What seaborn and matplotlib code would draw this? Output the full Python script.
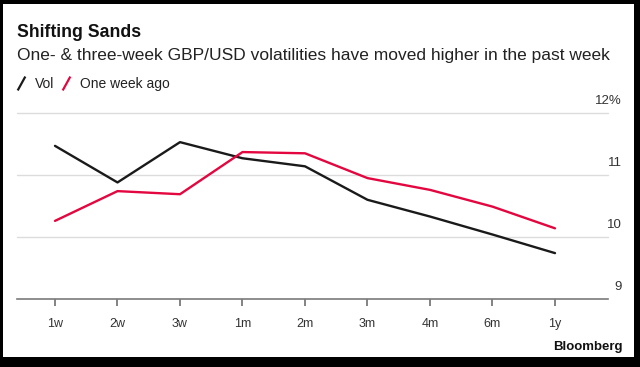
import numpy as np
import pandas as pd
import seaborn as sns
from matplotlib import pyplot as plt
from matplotlib import transforms
from matplotlib.lines import Line2D
from matplotlib.patches import Rectangle

# values (GBP/USD implied vols, %)
tenors = ['1w', '2w', '3w', '1m', '2m', '3m', '4m', '6m', '1y']
vol = [11.47, 10.88, 11.53, 11.27, 11.14, 10.60, 10.33, 10.04, 9.74]
week_ago = [10.26, 10.74, 10.69, 11.37, 11.35, 10.95, 10.76, 10.49, 10.14]
ytick_vals = [9, 10, 11, 12]
ytick_labels = ['9', '10', '11', '12%']

BLACK = '#1a1a1a'
RED = '#e3063f'

df = pd.DataFrame({
    'x': list(range(len(tenors))) * 2,
    'value': vol + week_ago,
    'series': ['Vol'] * len(tenors) + ['One week ago'] * len(tenors),
})

sns.set_style('white')
plt.rcParams['font.family'] = ['Liberation Sans', 'DejaVu Sans']

W, H = 640, 367
fig = plt.figure(figsize=(W / 100, H / 100), dpi=100)
fig.patch.set_facecolor('black')
# white card inside the black frame
fig.add_artist(Rectangle((3 / W, 1 - 357 / H), (634 - 3) / W, (357 - 4) / H,
                         transform=fig.transFigure, facecolor='white',
                         edgecolor='none', zorder=0))


def px(x, y):
    return x / W, 1 - y / H


ax_l, ax_r, ax_t, ax_b = 17, 608, 113, 299
ax = fig.add_axes([ax_l / W, 1 - ax_b / H, (ax_r - ax_l) / W, (ax_b - ax_t) / H])
ax.set_facecolor('none')

sns.lineplot(data=df, x='x', y='value', hue='series',
             palette={'Vol': BLACK, 'One week ago': RED},
             linewidth=1.7, ax=ax, legend=False, zorder=3)

ax.set_xlim(-0.608, 8.848)
ax.set_ylim(9, 12)
for v in ytick_vals[1:]:
    ax.axhline(v, color='#dcdcdc', linewidth=1.0, zorder=1, clip_on=False)

for s in ['top', 'right', 'left']:
    ax.spines[s].set_visible(False)
ax.spines['bottom'].set_color('#7a7a7a')
ax.spines['bottom'].set_linewidth(1.2)

ax.set_xticks(range(len(tenors)))
ax.set_xticklabels(tenors, fontsize=9, color='#333333')
ax.tick_params(axis='x', direction='out', length=5, width=1.3,
               color='#7a7a7a', pad=9, bottom=True)
ax.set_yticks([])
ax.set_xlabel('')
ax.set_ylabel('')

# y labels sit above each gridline, right aligned beyond the plot
trans = transforms.blended_transform_factory(ax.transAxes, ax.transData)
for v, lab in zip(ytick_vals, ytick_labels):
    ax.text((622 - ax_l) / (ax_r - ax_l), v + 0.1, lab, transform=trans,
            ha='right', va='bottom', fontsize=9.5, color='#333333')

fig.text(*px(17, 37), 'Shifting Sands', fontsize=12.7, fontweight='bold',
         color='#111111', va='baseline', ha='left')
fig.text(*px(17, 60),
         'One- & three-week GBP/USD volatilities have moved higher in the past week',
         fontsize=12.5, color='#222222', va='baseline', ha='left')
fig.text(*px(623, 350), 'Bloomberg', fontsize=9.5, fontweight='bold',
         color='#111111', va='baseline', ha='right')

slash = [(-0.55, -1), (0.55, 1)]
handles = [
    Line2D([], [], color=BLACK, marker=slash, markersize=10, markeredgewidth=1.6,
           linestyle='none', label='Vol'),
    Line2D([], [], color=RED, marker=slash, markersize=10, markeredgewidth=1.6,
           linestyle='none', label='One week ago'),
]
fig.legend(handles=handles, loc='center left', bbox_to_anchor=px(15, 84),
           ncol=2, frameon=False, fontsize=10, handlelength=0.8,
           handletextpad=0.6, columnspacing=0.5, borderpad=0, borderaxespad=0,
           labelcolor='#222222')

fig.savefig('out.png', dpi=100, facecolor=fig.get_facecolor())
